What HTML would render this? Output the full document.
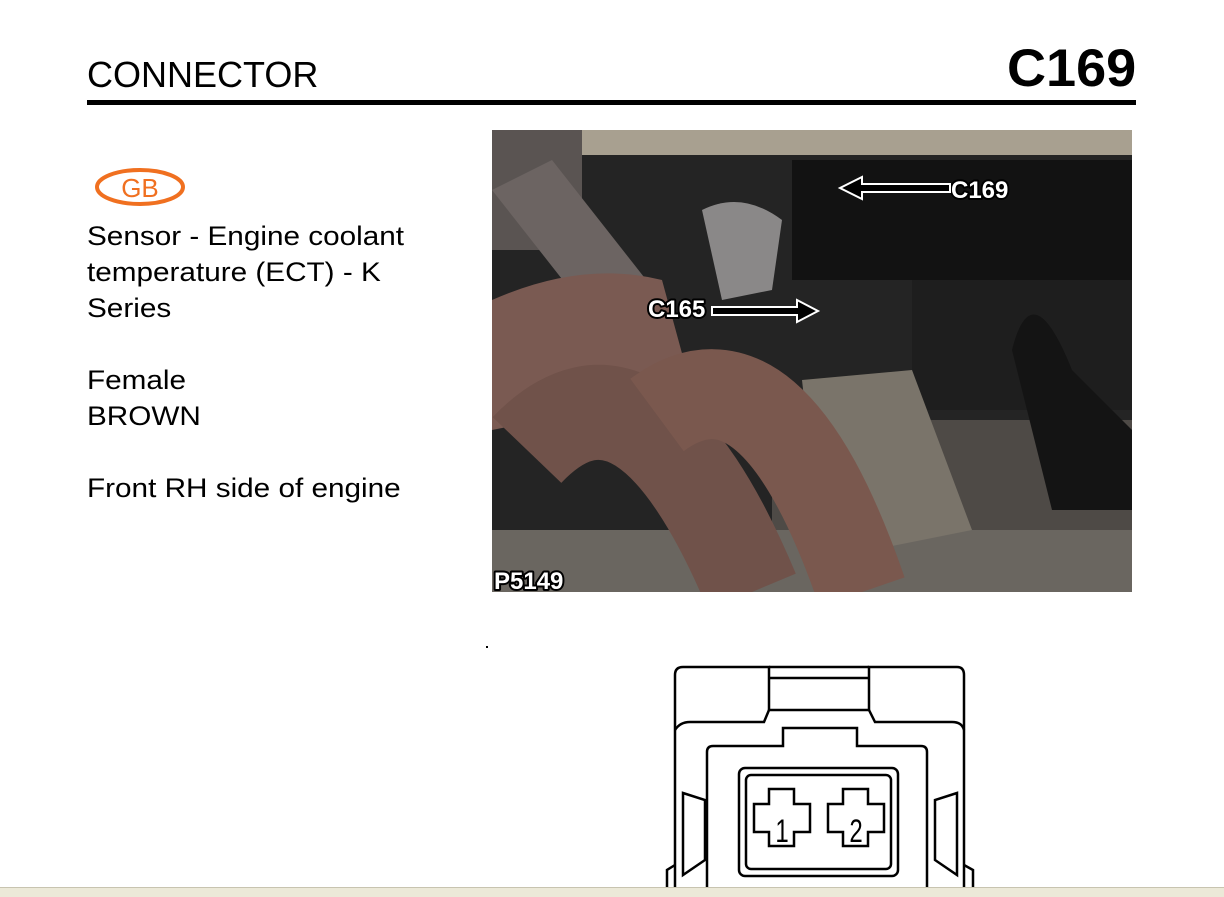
<!DOCTYPE html>
<html><head><meta charset="utf-8"><style>
body{margin:0;width:1224px;height:896px;background:#fff;position:relative;overflow:hidden;font-family:"Liberation Sans",Arial,sans-serif;}
.t{position:absolute;color:#000;}
.lbl{font-family:"Liberation Sans";font-weight:bold;fill:#fff;stroke:#000;stroke-width:4;paint-order:stroke;stroke-linejoin:round;}
</style></head><body>
<div class="t" style="left:87px;top:54px;font-size:36px;">CONNECTOR</div>
<div class="t" style="left:1007px;top:38px;font-size:53px;font-weight:bold;transform:scaleX(1.02);transform-origin:left;">C169</div>
<div style="position:absolute;left:87px;top:100px;width:1049px;height:5px;background:#000;"></div>
<svg style="position:absolute;left:94px;top:167px" width="94" height="40"><ellipse cx="46" cy="20" rx="43" ry="17" fill="none" stroke="#f07020" stroke-width="4"/><text x="46" y="30" text-anchor="middle" font-family="Liberation Sans" font-size="26" fill="#f07020">GB</text></svg>
<div class="t" style="left:87px;top:218px;font-size:27px;line-height:36px;transform:scaleX(1.1);transform-origin:left;white-space:nowrap;">Sensor - Engine coolant<br>temperature (ECT) - K<br>Series<br><br>Female<br>BROWN<br><br>Front RH side of engine</div>

<svg style="position:absolute;left:492px;top:130px" width="640" height="462" viewBox="0 0 640 462">
<rect width="640" height="462" fill="#242424"/>
<rect x="85" y="0" width="555" height="25" fill="#a8a090"/>
<rect x="0" y="0" width="90" height="120" fill="#5a5452"/>
<rect x="300" y="30" width="340" height="120" fill="#121212"/>
<rect x="420" y="150" width="220" height="130" fill="#1e1e1e"/>
<rect x="280" y="290" width="360" height="172" fill="#4e4a46"/>
<rect x="0" y="400" width="640" height="62" fill="#6a6660"/>
<path d="M0 60 L60 30 L170 170 L110 200 Z" fill="#6c6462"/>
<path d="M210 80 Q250 60 290 90 L280 160 L230 170 Z" fill="#8a8888"/>
<path d="M0 170 Q90 130 170 150 L200 260 L0 300 Z" fill="#7a5a52"/>
<path d="M310 250 L420 240 L480 400 L330 430 Z" fill="#7a746a"/>
<path d="M35 320 Q150 200 260 462" fill="none" stroke="#70524a" stroke-width="95"/>
<path d="M165 285 Q280 200 370 462" fill="none" stroke="#7a584e" stroke-width="90"/>
<path d="M520 220 Q540 140 580 240 L640 300 L640 380 L560 380 Z" fill="#141414"/>
<text x="156" y="187" class="lbl" font-size="24">C165</text>
<path d="M220 177 L305 177 L305 170 L326 181 L305 192 L305 185 L220 185 Z" fill="#000" stroke="#fff" stroke-width="2"/>
<text x="459" y="68" class="lbl" font-size="24">C169</text>
<path d="M458 54 L370 54 L370 47 L348 58 L370 69 L370 62 L458 62 Z" fill="#000" stroke="#fff" stroke-width="2"/>
<text x="2" y="459" class="lbl" font-size="24">P5149</text>
</svg>

<svg style="position:absolute;left:0;top:0" width="1224" height="896" fill="none" stroke="#000" stroke-width="2.5">
<path d="M675 888 L675 675 Q675 667 683 667 L769 667 L769 710 L869 710 L869 667 L957 667 Q964 667 964 675 L964 888"/>
<path d="M769 667 L869 667 M769 678 L869 678"/>
<path d="M675 730 Q680 722 690 722 L764 722 L769 710 M869 710 L875 722 L952 722 Q962 722 964 730"/>
<path d="M707 888 L707 752 Q707 746 713 746 L783 746 L783 728 L857 728 L857 746 L921 746 Q927 746 927 752 L927 888"/>
<rect x="739" y="768" width="159" height="108" rx="6"/>
<rect x="746" y="775" width="145" height="94" rx="5"/>
<path d="M769 789 L794 789 L794 804 L810 804 L810 832 L794 832 L794 846 L769 846 L769 832 L754 832 L754 804 L769 804 Z"/>
<path d="M843 789 L868 789 L868 804 L884 804 L884 832 L868 832 L868 846 L843 846 L843 832 L828 832 L828 804 L843 804 Z"/>
<path d="M683 793 L705 800 L705 860 L683 875 Z M957 793 L935 800 L935 860 L957 875 Z"/>
<path d="M667 888 L667 870 L675 865 M973 888 L973 870 L964 865"/>
</svg>
<svg style="position:absolute;left:0;top:0" width="1224" height="896">
<text x="782" y="842" text-anchor="middle" font-family="Liberation Sans" font-size="32" transform="translate(782 0) scale(0.75 1) translate(-782 0)">1</text>
<text x="856" y="842" text-anchor="middle" font-family="Liberation Sans" font-size="32" transform="translate(856 0) scale(0.75 1) translate(-856 0)">2</text>
</svg>
<div style="position:absolute;left:486px;top:646px;width:2px;height:2px;background:#000"></div>
<div style="position:absolute;left:0;top:887px;width:1224px;height:9px;background:#ece9d8;border-top:1px solid #c8c4b0"></div>
</body></html>
